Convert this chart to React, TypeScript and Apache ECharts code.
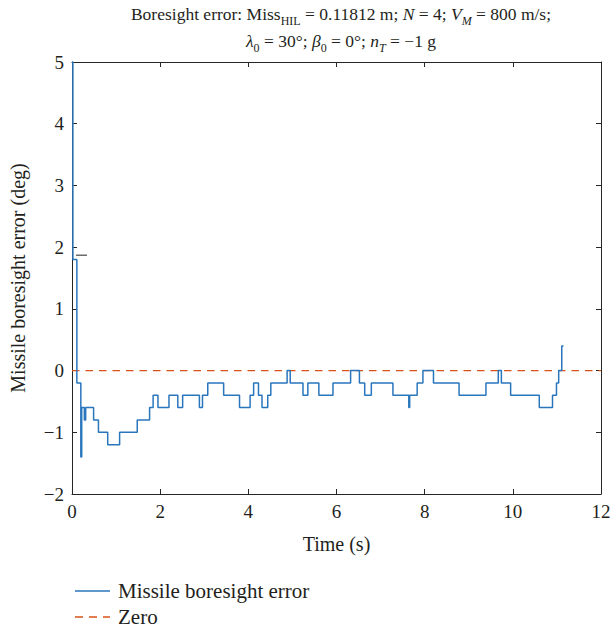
import React, { useEffect, useRef } from "react";
import * as echarts from "echarts";

// Change times (s) and the boresight error (deg) held from each time until the next
const times = [
  0, 0.02, 0.11, 0.2, 0.22, 0.28, 0.31, 0.49, 0.6, 0.81, 1.08, 1.48, 1.76, 1.84, 1.95,
  2.2, 2.4, 2.51, 2.89, 2.96, 3.08, 3.44, 3.8, 4.04, 4.12, 4.23, 4.31, 4.44, 4.51,
  4.88, 4.95, 5.24, 5.35, 5.6, 5.92, 6.32, 6.52, 6.64, 6.79, 7.28, 7.64, 7.66, 7.83,
  7.96, 8.2, 8.78, 9.39, 9.67, 9.74, 9.95, 10.6, 10.9, 10.99, 11.04, 11.11, 11.15,
];
const errors = [
  5, 1.8, -0.2, -1.4, -0.6, -0.8, -0.6, -0.8, -1.0, -1.2, -1.0, -0.8, -0.6, -0.4, -0.6,
  -0.4, -0.6, -0.4, -0.6, -0.4, -0.2, -0.4, -0.6, -0.4, -0.2, -0.4, -0.6, -0.4, -0.2,
  0, -0.2, -0.4, -0.2, -0.4, -0.2, 0, -0.2, -0.4, -0.2, -0.4, -0.6, -0.4, -0.2,
  0, -0.2, -0.4, -0.2, 0, -0.2, -0.4, -0.6, -0.4, -0.2, 0, 0.4, 0.4,
];
const zeroTimes = [0, 12];
const zeroValues = [0, 0];
// small stray dash near the start of the plot
const dashTimes = [0.09, 0.34];
const dashValues = [1.87, 1.87];

const legendNames = ["Missile boresight error", "Zero"];

const xTicks = { min: 0, max: 12, interval: 2 };
const yTicks = { min: -2, max: 5, interval: 1 };

const FONT = "'Liberation Serif', 'Times New Roman', serif";
const AXIS_COLOR = "#262626";
const TEXT_COLOR = "#231f20";
const BLUE = "#2a76bd";
const ORANGE = "#d95319";

export default function App() {
  const ref = useRef<HTMLDivElement>(null);
  useEffect(() => {
    if (!ref.current) return;
    const chart = echarts.init(ref.current, undefined, { renderer: "svg" });
    const mainData = times.map((t, i) => [t, errors[i]]);
    const zeroData = zeroTimes.map((t, i) => [t, zeroValues[i]]);
    const dashData = dashTimes.map((t, i) => [t, dashValues[i]]);
    const minus = (v: number) => String(v).replace("-", "\u2212");
    const baseX = {
      type: "value" as const,
      min: xTicks.min,
      max: xTicks.max,
      interval: xTicks.interval,
      splitLine: { show: false },
      axisLine: { show: true, onZero: false, lineStyle: { color: AXIS_COLOR, width: 1 } },
      axisTick: { show: true, inside: true, length: 5, lineStyle: { color: AXIS_COLOR } },
    };
    const baseY = {
      type: "value" as const,
      min: yTicks.min,
      max: yTicks.max,
      interval: yTicks.interval,
      splitLine: { show: false },
      axisLine: { show: true, onZero: false, lineStyle: { color: AXIS_COLOR, width: 1 } },
      axisTick: { show: true, inside: true, length: 5, lineStyle: { color: AXIS_COLOR } },
    };
    const legendStyles = [
      { stroke: BLUE, lineWidth: 1.5 },
      { stroke: ORANGE, lineWidth: 1.3, lineDash: [8, 6] },
    ];
    const legendGraphics: any[] = [];
    legendNames.forEach((name, i) => {
      const y = 591 + i * 26;
      legendGraphics.push({
        type: "line",
        shape: { x1: 75, y1: y, x2: 110, y2: y },
        style: legendStyles[i],
        silent: true,
      });
      legendGraphics.push({
        type: "text",
        x: 118,
        y,
        style: {
          text: name,
          font: `21px ${FONT}`,
          fill: TEXT_COLOR,
          verticalAlign: "middle",
          align: "left",
        },
        silent: true,
      });
    });
    chart.setOption({
      animation: false,
      backgroundColor: "#ffffff",
      title: {
        left: 336,
        top: -5,
        textAlign: "center",
        text:
          "Boresight error: Miss{sub|HIL} = 0.11812 m; {i|N} = 4; {i|V}{isub|M} = 800 m/s;\n" +
          "{i|\u03bb}{sub|0} = 30\u00b0; {i|\u03b2}{sub|0} = 0\u00b0; {i|n}{isub|T} = \u22121 g",
        textStyle: {
          fontFamily: FONT,
          fontSize: 17.5,
          fontWeight: "normal",
          color: TEXT_COLOR,
          lineHeight: 27,
          rich: {
            sub: { fontFamily: FONT, fontSize: 12, color: TEXT_COLOR, verticalAlign: "bottom", lineHeight: 27 },
            isub: { fontFamily: FONT, fontSize: 12, fontStyle: "italic", color: TEXT_COLOR, verticalAlign: "bottom", lineHeight: 27 },
            i: { fontFamily: FONT, fontSize: 17.5, fontStyle: "italic", color: TEXT_COLOR, lineHeight: 27 },
          },
        },
      },
      grid: { left: 71, right: 13, top: 62, bottom: 135, containLabel: false },
      graphic: legendGraphics,
      xAxis: [
        {
          ...baseX,
          position: "bottom",
          name: "Time (s)",
          nameLocation: "middle",
          nameGap: 40,
          nameTextStyle: { fontFamily: FONT, fontSize: 20, color: TEXT_COLOR },
          axisLabel: { fontFamily: FONT, fontSize: 19, color: TEXT_COLOR, margin: 8 },
        },
        { ...baseX, position: "top", axisLabel: { show: false } },
      ],
      yAxis: [
        {
          ...baseY,
          position: "left",
          name: "Missile boresight error (deg)",
          nameLocation: "middle",
          nameGap: 44,
          nameTextStyle: { fontFamily: FONT, fontSize: 20, color: TEXT_COLOR },
          axisLabel: { fontFamily: FONT, fontSize: 19, color: TEXT_COLOR, margin: 8, formatter: minus },
        },
        { ...baseY, position: "right", axisLabel: { show: false } },
      ],
      series: [
        {
          name: legendNames[0],
          type: "line",
          step: "end",
          data: mainData,
          symbol: "none",
          lineStyle: { color: BLUE, width: 1.5 },
          itemStyle: { color: BLUE },
          z: 3,
        },
        {
          name: legendNames[1],
          type: "line",
          data: zeroData,
          symbol: "none",
          lineStyle: { color: ORANGE, width: 1.2, type: [7.5, 6] },
          itemStyle: { color: ORANGE },
          z: 2,
        },
        {
          name: "dash",
          type: "line",
          data: dashData,
          symbol: "none",
          silent: true,
          lineStyle: { color: TEXT_COLOR, width: 1 },
          z: 4,
        },
      ],
    });
    return () => chart.dispose();
  }, []);
  return (
    <div
      ref={ref}
      style={{ position: "fixed", left: 0, top: 0, width: 614, height: 629 }}
    />
  );
}
